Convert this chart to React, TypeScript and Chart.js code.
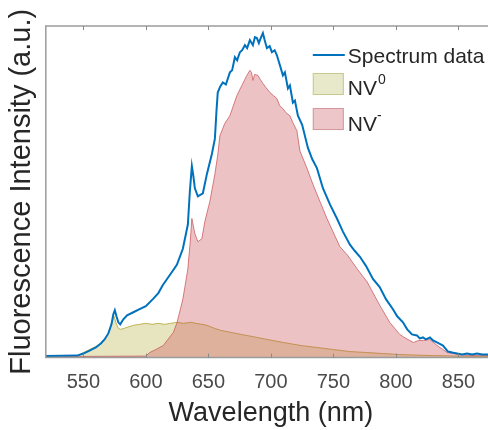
import { useEffect, useRef } from 'react';
import { Chart, registerables } from 'chart.js';

Chart.register(...registerables);

// Wavelength samples (nm) and intensities (a.u.)
const specNm = [520,545,550,555,560,564,567,570,572.5,574,575.2,576.5,578,579.5,582,585,590,595,600,605.6,610,613.6,619.2,624.8,629.6,633.6,635.2,636.8,638,639.2,641.6,645.6,648.8,652.8,655.2,656.5,657.5,659.5,661.6,664,667.2,669,671.2,673,675.2,677,679.2,681,683.2,685.6,687.2,688.8,690.4,691.2,693.6,695,696.8,699,700.8,703,704.8,707.2,709.6,711.2,713.6,715.2,717.6,719.2,721.6,725,729.6,733,736.8,741.6,747.2,752.8,757.6,763.2,767,771.2,776,781.6,787,792,797.6,801,805.6,809,812.8,816.8,819,821.6,824,827.2,829.6,832.8,837.6,841.6,845,848.8,853,856.8,861,864.8,869,872.8,880];
const specVal = [1.5,2,4,7,10,14,18,24,33,43,47,41,35,33,38,42,45,48,51,58,64,72,82,92,108,132,165,190,180,168,160,163,182,202,217,245,263,269,273,271,283,285,298,295,303,305,310,307,315,310,318,317,312,315,322,315,307,309,303,305,300,290,280,283,267,270,253,255,240,231,208,197,188,168,152,138,125,112,106,100,91,78,70,58,48,41,35,28,23,22,19,20,18,20,17,15,12,6,5,4,3,4,3,4,3,3,3];

const nvmNm = [520,600,603,608,614,617,622,625,629.6,633.6,635.5,636.8,639.2,641.6,644.8,647.2,651.2,655.2,657.6,659.2,663,667.2,672.8,676.8,680.8,683.2,684.5,685.6,687,689.6,691.5,693.6,696,699.2,702,704.8,707,709.6,712,715.2,717.6,720.8,723.2,728.8,733.6,739.2,744.8,749.6,755.2,761,769,777,787,795,803,808,814,818,822,827,833,841,851,860,880];
const nvmVal = [1,1.5,5,8,12,17,25,35,58,88,115,138,123,115,118,135,155,182,202,220,232,240,260,270,280,285,283,275,281,280,276,272,268,263,260,257,250,247,243,240,233,225,205,188,172,155,138,125,110,102,88,75,52,35,23,19,15,17,17,18,12,5,3,2,2];

const nv0Nm = [520,545,550,555,560,565,570,572.5,574.5,576,578,580,585,590,595,600,605,610,615,620,625,630,636,640,645,649,655,660,668,676,685,697,710,724,737,750,763,777,790,803,816,830,850,880];
const nv0Val = [0.5,1,5,8,11,15,24,33,41,35,29,28,30,32,33,34,33,34,33,34,35,34,35,34,33,32,29,27,25,23,21,18,15,12,10,8,6,5,4,3,2.5,2,1.5,1];

const xTicks = [550, 600, 650, 700, 750, 800, 850];
const xMin = 520;
const xMax = 880;
const yMin = 0;
const yMax = 329;

const seriesLabels = ['Spectrum data', 'NV0', 'NV-'];

const toXY = (xs: number[], ys: number[]) => xs.map((x, i) => ({ x, y: ys[i] }));

const FONT = '"Liberation Sans", Arial, Helvetica, sans-serif';

export default function App() {
  const ref = useRef<HTMLCanvasElement>(null);

  useEffect(() => {
    if (!ref.current) return;

    const framePlugin = {
      id: 'frame',
      afterDraw(chart: any) {
        const { ctx, chartArea: a, scales } = chart;
        ctx.save();
        ctx.strokeStyle = '#9c9c9c';
        ctx.lineWidth = 1.5;
        ctx.beginPath();
        ctx.moveTo(a.right + 10, a.top);
        ctx.lineTo(a.left, a.top);
        ctx.lineTo(a.left, a.bottom);
        ctx.lineTo(a.right + 10, a.bottom);
        ctx.stroke();
        ctx.lineWidth = 1;
        ctx.strokeStyle = '#888';
        ctx.beginPath();
        for (const v of xTicks) {
          const px = Math.round(scales.x.getPixelForValue(v)) + 0.5;
          ctx.moveTo(px, a.top);
          ctx.lineTo(px, a.top + 4);
          ctx.moveTo(px, a.bottom);
          ctx.lineTo(px, a.bottom - 4);
        }
        ctx.stroke();
        ctx.restore();
      },
    };

    const legendPlugin = {
      id: 'customLegend',
      afterDraw(chart: any) {
        const { ctx, chartArea: a } = chart;
        const x0 = a.left + 267;
        const tx = x0 + 35;
        const top = 26;
        ctx.save();
        ctx.font = `21px ${FONT}`;
        ctx.fillStyle = '#262626';
        ctx.textBaseline = 'alphabetic';
        ctx.textAlign = 'left';
        // Spectrum data
        ctx.strokeStyle = '#0072BD';
        ctx.lineWidth = 2;
        ctx.beginPath();
        ctx.moveTo(x0, top + 29);
        ctx.lineTo(x0 + 32, top + 29);
        ctx.stroke();
        ctx.fillText(seriesLabels[0], tx, top + 37);
        // NV0
        ctx.fillStyle = 'rgb(232,232,202)';
        ctx.fillRect(x0, top + 47, 31, 22);
        ctx.strokeStyle = 'rgb(200,200,140)';
        ctx.lineWidth = 1;
        ctx.strokeRect(x0 + 0.5, top + 47.5, 30, 21);
        ctx.fillStyle = '#262626';
        ctx.fillText('NV', tx, top + 69);
        const w1 = ctx.measureText('NV').width;
        ctx.font = `14px ${FONT}`;
        ctx.fillText('0', tx + w1 + 1, top + 58);
        // NV-
        ctx.font = `21px ${FONT}`;
        ctx.fillStyle = 'rgb(236,198,201)';
        ctx.fillRect(x0, top + 82, 31, 22);
        ctx.strokeStyle = 'rgb(215,150,155)';
        ctx.strokeRect(x0 + 0.5, top + 82.5, 30, 21);
        ctx.fillStyle = '#262626';
        ctx.fillText('NV', tx, top + 105);
        const w2 = ctx.measureText('NV').width;
        ctx.font = `14px ${FONT}`;
        ctx.fillText('-', tx + w2, top + 94);
        ctx.restore();
      },
    };

    const chart = new Chart(ref.current, {
      type: 'line',
      data: {
        datasets: [
          {
            label: seriesLabels[0],
            data: toXY(specNm, specVal),
            borderColor: '#0072BD',
            borderWidth: 2,
            pointRadius: 0,
            fill: false,
            tension: 0,
            order: 0,
          },
          {
            label: seriesLabels[2],
            data: toXY(nvmNm, nvmVal),
            borderColor: 'rgba(200,85,90,0.75)',
            backgroundColor: 'rgba(200,70,78,0.33)',
            borderWidth: 1,
            pointRadius: 0,
            fill: 'origin',
            tension: 0,
            order: 1,
          },
          {
            label: seriesLabels[1],
            data: toXY(nv0Nm, nv0Val),
            borderColor: 'rgba(185,170,60,0.85)',
            backgroundColor: 'rgba(175,170,45,0.3)',
            borderWidth: 1,
            pointRadius: 0,
            fill: 'origin',
            tension: 0,
            order: 2,
          },
        ],
      },
      options: {
        animation: false,
        responsive: false,
        devicePixelRatio: 1,
        layout: { padding: { left: 4, top: 26, right: 4, bottom: 0 } },
        plugins: {
          legend: { display: false },
          tooltip: { enabled: false },
        },
        scales: {
          x: {
            type: 'linear',
            min: xMin,
            max: xMax,
            afterBuildTicks: (axis: any) => {
              axis.ticks = xTicks.map((v) => ({ value: v }));
            },
            grid: { display: false, drawTicks: false },
            border: { display: false },
            ticks: {
              color: '#4a4a4a',
              font: { family: FONT, size: 20 },
              padding: 13,
              maxRotation: 0,
              autoSkip: false,
            },
            title: {
              display: true,
              text: 'Wavelength (nm)',
              color: '#262626',
              font: { family: FONT, size: 27 },
              padding: { top: -10, bottom: 0 },
            },
          },
          y: {
            type: 'linear',
            min: yMin,
            max: yMax,
            grid: { display: false, drawTicks: false },
            border: { display: false },
            ticks: { display: false },
            title: {
              display: true,
              text: 'Fluorescence Intensity (a.u.)',
              color: '#262626',
              font: { family: FONT, size: 29 },
              padding: { top: 1, bottom: 6 },
            },
          },
        },
      },
      plugins: [framePlugin, legendPlugin],
    });

    return () => chart.destroy();
  }, []);

  return (
    <div
      style={{
        position: 'fixed',
        left: 0,
        top: 0,
        width: 488,
        height: 430,
        overflow: 'hidden',
        background: '#fff',
      }}
    >
      <canvas ref={ref} width={500} height={430} style={{ display: 'block' }} />
    </div>
  );
}
